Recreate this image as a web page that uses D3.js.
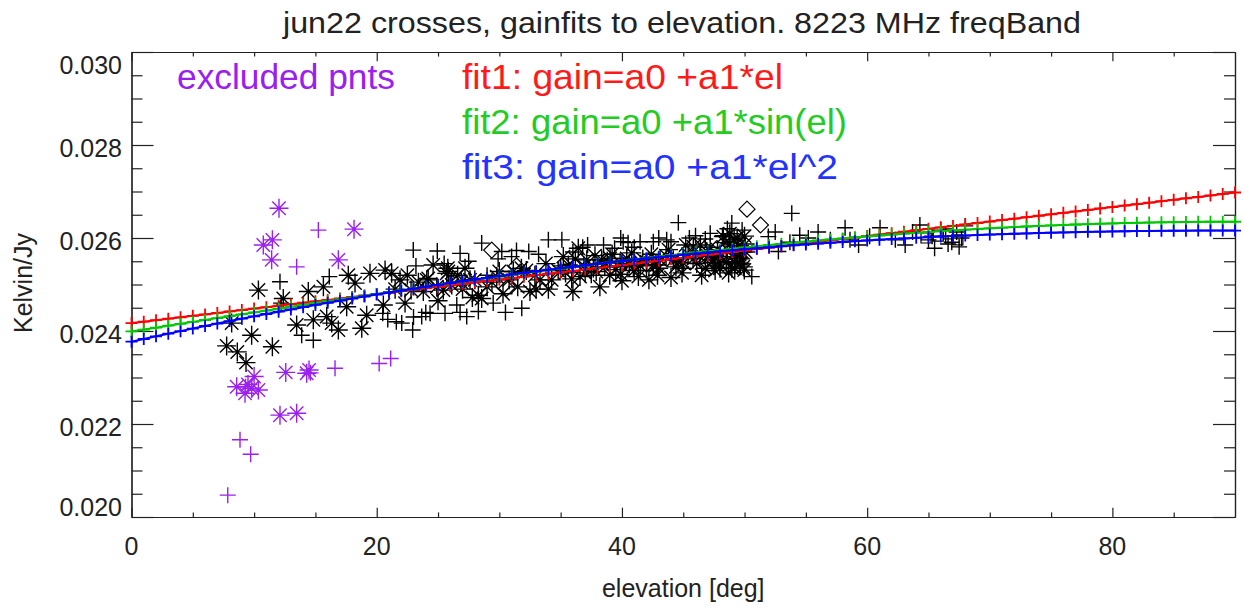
<!DOCTYPE html>
<html><head><meta charset="utf-8">
<script src="https://cdn.jsdelivr.net/npm/d3@7"></script>
<style>
html,body{margin:0;padding:0;background:#fff;}
svg{display:block;font-family:"Liberation Sans",Arial,Helvetica,sans-serif;}
</style></head><body>
<svg id="chart" width="1244" height="610"></svg>
<script>
// ---------------- data ----------------
const titleText = "jun22 crosses, gainfits to elevation. 8223 MHz freqBand";
const xLabel = "elevation [deg]";
const yLabel = "Kelvin/Jy";
const xTickValues = [0, 20, 40, 60, 80];
const xTickLabels = ["0", "20", "40", "60", "80"];
const xMinorValues = [5, 10, 15, 25, 30, 35, 45, 50, 55, 65, 70, 75, 85];
const yTickValues = [0.020, 0.022, 0.024, 0.026, 0.028, 0.030];
const yTickLabels = ["0.020", "0.022", "0.024", "0.026", "0.028", "0.030"];
const yMinorValues = [0.0205, 0.021, 0.0215, 0.0225, 0.023, 0.0235, 0.0245, 0.025, 0.0255, 0.0265, 0.027, 0.0275, 0.0285, 0.029, 0.0295];
const legendLabels = ["excluded pnts", "fit1: gain=a0 +a1*el", "fit2: gain=a0 +a1*sin(el)", "fit3: gain=a0 +a1*el^2"];

// fit curves evaluated at every degree of elevation
const fitEl = [0,1,2,3,4,5,6,7,8,9,10,11,12,13,14,15,16,17,18,19,20,21,22,23,24,25,26,27,28,29,30,31,32,33,34,35,36,37,38,39,40,41,42,43,44,45,46,47,48,49,50,51,52,53,54,55,56,57,58,59,60,61,62,63,64,65,66,67,68,69,70,71,72,73,74,75,76,77,78,79,80,81,82,83,84,85,86,87,88,89,90];
const fit1 = [0.024170,0.024201,0.024232,0.024264,0.024295,0.024326,0.024357,0.024388,0.024420,0.024451,0.024482,0.024513,0.024544,0.024576,0.024607,0.024638,0.024669,0.024700,0.024732,0.024763,0.024794,0.024825,0.024856,0.024888,0.024919,0.024950,0.024981,0.025012,0.025044,0.025075,0.025106,0.025137,0.025168,0.025200,0.025231,0.025262,0.025293,0.025324,0.025356,0.025387,0.025418,0.025449,0.025480,0.025512,0.025543,0.025574,0.025605,0.025636,0.025668,0.025699,0.025730,0.025761,0.025792,0.025824,0.025855,0.025886,0.025917,0.025948,0.025980,0.026011,0.026042,0.026073,0.026104,0.026136,0.026167,0.026198,0.026229,0.026260,0.026292,0.026323,0.026354,0.026385,0.026416,0.026448,0.026479,0.026510,0.026541,0.026572,0.026604,0.026635,0.026666,0.026697,0.026728,0.026760,0.026791,0.026822,0.026853,0.026884,0.026916,0.026947,0.026978];
const fit2 = [0.023990,0.024031,0.024072,0.024114,0.024155,0.024196,0.024237,0.024278,0.024318,0.024359,0.024400,0.024440,0.024481,0.024521,0.024561,0.024601,0.024641,0.024680,0.024719,0.024758,0.024797,0.024836,0.024874,0.024912,0.024950,0.024987,0.025025,0.025061,0.025098,0.025134,0.025170,0.025205,0.025241,0.025275,0.025310,0.025344,0.025377,0.025410,0.025443,0.025475,0.025507,0.025538,0.025569,0.025600,0.025629,0.025659,0.025688,0.025716,0.025744,0.025771,0.025798,0.025824,0.025850,0.025875,0.025899,0.025923,0.025947,0.025969,0.025991,0.026013,0.026034,0.026054,0.026074,0.026093,0.026111,0.026129,0.026146,0.026162,0.026178,0.026193,0.026208,0.026221,0.026235,0.026247,0.026259,0.026270,0.026280,0.026290,0.026298,0.026307,0.026314,0.026321,0.026327,0.026332,0.026337,0.026341,0.026344,0.026347,0.026349,0.026350,0.026350];
const fit3 = [0.023770,0.023828,0.023885,0.023942,0.023997,0.024052,0.024107,0.024160,0.024213,0.024264,0.024316,0.024366,0.024415,0.024464,0.024512,0.024560,0.024606,0.024652,0.024697,0.024742,0.024785,0.024828,0.024870,0.024911,0.024952,0.024992,0.025031,0.025070,0.025107,0.025144,0.025180,0.025216,0.025251,0.025285,0.025318,0.025351,0.025383,0.025414,0.025445,0.025475,0.025504,0.025533,0.025560,0.025588,0.025614,0.025640,0.025665,0.025689,0.025713,0.025736,0.025759,0.025780,0.025801,0.025822,0.025842,0.025861,0.025879,0.025897,0.025914,0.025931,0.025947,0.025962,0.025977,0.025991,0.026004,0.026017,0.026030,0.026041,0.026052,0.026063,0.026073,0.026082,0.026091,0.026099,0.026107,0.026114,0.026120,0.026126,0.026132,0.026137,0.026141,0.026145,0.026148,0.026151,0.026154,0.026156,0.026157,0.026159,0.026159,0.026160,0.026160];

// measured points [elevation, gain]
const blackStar = [
 [7.76,0.02368],[8.63,0.02355],[9.34,0.02332],[9.8,0.02391],[10.35,0.02488],[11.49,0.02366],[8.17,0.02417],
 [12.38,0.0247],[13.47,0.02413],[14.42,0.02485],[14.83,0.02424],[15.65,0.02495],[15.92,0.02431],[16.33,0.02417],
 [16.87,0.02402],[17.55,0.02452],[17.68,0.0252],[18.23,0.02503],[18.78,0.02406],[19.18,0.02434],[19.45,0.02524],
 [20.54,0.02456],[20.68,0.02531],[21.22,0.02524],[21.9,0.0251],[22.31,0.0246],[24.2,0.02513],[25.43,0.02488],
 [25.71,0.02524],[24.6,0.02542],[25.8,0.02535],
 [24.08,0.02510],[25.84,0.02528],[26.12,0.02499],[27.61,0.02510],[28.29,0.02477],[28.56,0.02470],[29.79,0.02517],
 [31.14,0.02528],[32.5,0.02485],[33.32,0.02510],[34.27,0.02510],[35.22,0.02560],[35.63,0.02542],[36.44,0.02578],
 [36.58,0.02517],[37.13,0.02553],[37.67,0.02535],[38.35,0.02553],[39.03,0.02556],[39.85,0.02546],[40.39,0.02556],
 [40.93,0.02538],[41.34,0.02517],[42.02,0.02549],[42.56,0.02542],[43.11,0.02553],[44.19,0.02553],[45.01,0.02546],
 [45.82,0.02581],[46.37,0.02560],[46.92,0.02571],[47.46,0.02553],[48.0,0.02546],[48.27,0.02603],[48.82,0.02589],
 [49.36,0.02567],[49.63,0.02546],[49.9,0.02538],[48.96,0.02535],[48.55,0.02549],
 [22.8,0.02488],[23.4,0.02505],[24.9,0.02495],[26.6,0.0252],[27.2,0.02535],[28.0,0.0251],[29.0,0.02495],
 [30.0,0.02528],[30.8,0.0251],[31.8,0.02535],[32.9,0.0252],[33.8,0.02545],[34.8,0.0253],[35.9,0.02512],
 [36.9,0.0254],[37.9,0.02528],[38.8,0.0255],[39.5,0.02532],[40.6,0.02545],[41.7,0.02555],[42.8,0.02542],
 [43.6,0.02562],[44.6,0.02548],[45.4,0.02565],[46.1,0.02545],[47.0,0.02562],[47.8,0.02575],[25.0,0.02465],
 [27.8,0.02472],[33.0,0.0249],[36.0,0.02485],[38.2,0.02495],[40.0,0.02508],[42.2,0.0251],[44.0,0.02515],[46.5,0.0252],
 [48.8,0.02609],[49.15,0.02596],[49.5,0.02583],[49.8,0.0257],[49.3,0.02557],[49.65,0.02544],[49.98,0.02531],
 [48.6,0.02574],[50.05,0.02587],[48.5,0.02548],[50.0,0.02604],[48.0,0.02535],[47.35,0.02548],[46.8,0.02535],
 [36.2,0.02555],[37.0,0.02525],[37.8,0.02562],[38.6,0.02538],[39.2,0.02565],[39.9,0.02522],[40.8,0.02568],
 [41.5,0.0254],[42.4,0.02565],[43.0,0.02535],[43.8,0.02575],[44.4,0.02538],[45.2,0.02585],[45.8,0.02555],
 [46.4,0.02585],[47.2,0.0258],[47.9,0.0256],[48.4,0.0259],[49.0,0.0256],[49.4,0.0260],[49.7,0.02555],
 [50.1,0.0257],[48.7,0.02525],[49.2,0.02535],[47.6,0.0253],[44.9,0.02525],[42.9,0.0252],[41.0,0.0253],[39.0,0.0252],
 [22.5,0.0252],[23.8,0.02485],[26.9,0.02505],[29.4,0.02505],[31.5,0.02495],[32.2,0.0253],[34.0,0.0249],
 [35.4,0.02525],[30.3,0.0248],[27.0,0.0249],[21.5,0.0249]
];
const blackPlus = [
 [12.11,0.02506],[12.2,0.0246],[13.88,0.02391],[14.83,0.0238],[16.13,0.02517],[20.49,0.02438],[22.04,0.02417],
 [22.93,0.02402],[22.98,0.02574],[24.94,0.02572],[23.67,0.02431],[24.35,0.02438],[25.57,0.02438],[26.8,0.02567],
 [28.56,0.02589],[30.2,0.02571],[31.4,0.02573],[32.4,0.02571],[34.0,0.02596],[35.1,0.02596],[44.6,0.02633],
 [53.85,0.02653],[48.96,0.02632],[50.59,0.02517],[31.83,0.02449],[28.29,0.02442],[27.34,0.02431],[26.53,0.02456],
 [41.48,0.02592],[42.56,0.02592],[43.65,0.02596],[40.1,0.02592],[47.2,0.0261],[49.8,0.02617],[51.94,0.02603],
 [52.76,0.02571],[54.5,0.02606],
 [23.2,0.0254],[25.5,0.02545],[27.5,0.0255],[29.9,0.02555],[33.2,0.02565],[36.8,0.0258],[38.5,0.02585],
 [39.4,0.02578],[41.0,0.0258],[44.0,0.02592],[45.5,0.026],[46.8,0.02598],[48.2,0.02605],[36.0,0.0257],
 [31.0,0.0256],[37.5,0.0252],[42.0,0.0253],[45.0,0.02535],[47.5,0.0254],[26.0,0.0250],[29.0,0.0252],[35.0,0.0254],
 [20.9,0.02425],[21.6,0.0242],[23.0,0.0243],[24.0,0.0244],[26.8,0.0244],[29.5,0.0246],[30.5,0.0244],
 [55.2,0.02600],[56.0,0.02613],[57.0,0.02596],[58.2,0.02622],[59.3,0.02585],[60.2,0.02604],[61.05,0.02622],
 [62.3,0.02596],[63.1,0.02585],[63.7,0.02613],[64.3,0.02628],[65.0,0.02596],[65.5,0.02578],[66.0,0.02617],
 [66.4,0.02604],[66.9,0.02591],[67.3,0.02613],[67.7,0.02600],[68.0,0.02626],[66.6,0.02587],[65.3,0.02604],
 [67.5,0.02581],[53.7,0.02591],[52.5,0.02613],[58.6,0.02596],
 [37.2,0.02585],[40.5,0.0259],[43.0,0.0260],[46.0,0.02605],[48.6,0.0262],[39.9,0.0260]
];
const blackDiamond = [[29.38,0.02574],[31.4,0.0254],[30.6,0.02492],[50.2,0.02662],[51.3,0.02628]];
const blackSquare = [[65.8,0.02604],[67.4,0.02596],[66.6,0.02609],[64.8,0.02600]];
const purpleStar = [
 [12.03,0.02664],[10.75,0.02585],[11.49,0.02596],[11.43,0.02553],[18.15,0.02619],[16.87,0.02553],
 [8.58,0.0228],[9.26,0.02266],[9.8,0.02277],[10.0,0.02302],[10.35,0.02273],[9.5,0.02285],
 [12.58,0.02311],[14.48,0.02316],[14.29,0.02309],[12.11,0.02219],[13.47,0.02223]
];
const purplePlus = [[15.24,0.02617],[13.47,0.02538],[16.6,0.0232],[20.2,0.0233],[21.14,0.02341],[8.85,0.02166],[9.72,0.02135],[7.85,0.02047],[9.3,0.0228],[14.6,0.0231]];

// ---------------- drawing ----------------
const svg = d3.select("#chart");
const plotLeft = 131.5, plotRight = 1235, plotTop = 52, plotBottom = 517;
const x = d3.scaleLinear().domain([0, 90]).range([plotLeft, plotRight]);
const y = d3.scaleLinear().domain([0.020, 0.030]).range([plotBottom, plotTop]);

const axisColor = "#222";
const textColor = "#222";
const purple = "#9b20f0";

function styleAxis(g) {
  g.select(".domain").attr("stroke", axisColor).attr("stroke-width", 1.2);
  g.selectAll(".tick line").attr("stroke", axisColor).attr("stroke-width", 1.2);
  g.selectAll(".tick text").remove();
}
const xMajLen = 9.3, xMinLen = 4.6, yMajLen = 22, yMinLen = 11;
function addAxis(gen, tx, ty) {
  svg.append("g").attr("transform", `translate(${tx},${ty})`).call(gen).call(styleAxis);
}
addAxis(d3.axisBottom(x).tickValues(xTickValues).tickSize(-xMajLen).tickSizeOuter(0), 0, plotBottom);
addAxis(d3.axisBottom(x).tickValues(xMinorValues).tickSize(-xMinLen).tickSizeOuter(0), 0, plotBottom);
addAxis(d3.axisTop(x).tickValues(xTickValues).tickSize(-xMajLen).tickSizeOuter(0), 0, plotTop);
addAxis(d3.axisTop(x).tickValues(xMinorValues).tickSize(-xMinLen).tickSizeOuter(0), 0, plotTop);
addAxis(d3.axisLeft(y).tickValues(yTickValues).tickSize(-yMajLen).tickSizeOuter(0), plotLeft, 0);
addAxis(d3.axisLeft(y).tickValues(yMinorValues).tickSize(-yMinLen).tickSizeOuter(0), plotLeft, 0);
addAxis(d3.axisRight(y).tickValues(yTickValues).tickSize(-yMajLen).tickSizeOuter(0), plotRight, 0);
addAxis(d3.axisRight(y).tickValues(yMinorValues).tickSize(-yMinLen).tickSizeOuter(0), plotRight, 0);

// tick labels
const fs = 25;
svg.append("g").selectAll("text").data(xTickValues).join("text")
  .attr("x", d => x(d)).attr("y", 555).attr("text-anchor", "middle")
  .attr("font-size", fs).attr("fill", textColor)
  .text((d, i) => xTickLabels[i]);
svg.append("g").selectAll("text").data(yTickValues).join("text")
  .attr("x", 122).attr("y", (d, i) => {
    const p = y(d);
    if (i === yTickValues.length - 1) return p + 22;
    if (i === 0) return p - 1;
    return p + 12;
  })
  .attr("text-anchor", "end").attr("font-size", fs).attr("fill", textColor)
  .text((d, i) => yTickLabels[i]);

// titles
svg.append("text").attr("x", 283).attr("y", 33).attr("font-size", 30).attr("fill", textColor)
  .attr("textLength", 798).attr("lengthAdjust", "spacingAndGlyphs").text(titleText);
svg.append("text").attr("x", (plotLeft + plotRight) / 2).attr("y", 597).attr("text-anchor", "middle")
  .attr("font-size", fs).attr("fill", textColor).text(xLabel);
svg.append("text").attr("transform", "translate(32,283) rotate(-90)").attr("text-anchor", "middle")
  .attr("font-size", fs).attr("fill", textColor).text(yLabel);

// symbol paths
const plusPath = s => `M${-s},0H${s}M0,${-s}V${s}`;
const starPath = s => { const d = s * 0.7071; return `M${-s},0H${s}M0,${-s}V${s}M${-d},${-d}L${d},${d}M${-d},${d}L${d},${-d}`; };
const diamondPath = s => `M0,${-s}L${s},0L0,${s}L${-s},0Z`;
const squarePath = s => `M${-s},${-s}H${s}V${s}H${-s}Z`;

function drawPoints(data, pathStr, color, sw) {
  svg.append("g").selectAll("path").data(data).join("path")
    .attr("transform", d => `translate(${x(d[0])},${y(d[1])})`)
    .attr("d", pathStr).attr("fill", "none").attr("stroke", color).attr("stroke-width", sw);
}
drawPoints(blackStar, starPath(9.5), "#000", 1.4);
drawPoints(blackPlus, plusPath(8), "#000", 1.4);
drawPoints(blackDiamond, diamondPath(8), "#000", 1.2);
drawPoints(blackSquare, squarePath(5), "#000", 1.2);
drawPoints(purpleStar, starPath(9.5), purple, 1.4);
drawPoints(purplePlus, plusPath(8), purple, 1.4);

// fit curves with plus markers at each degree
const fits = [[fit1, "#ff0000"], [fit2, "#00c800"], [fit3, "#0000ff"]];
const line = d3.line().x(d => x(d[0])).y(d => y(d[1]));
fits.forEach(([vals, col]) => {
  const pts = fitEl.map((e, i) => [e, vals[i]]);
  svg.append("path").datum(pts).attr("d", line).attr("fill", "none").attr("stroke", col).attr("stroke-width", 2);
  drawPoints(pts, plusPath(6), col, 1.8);
});

// legend
const legendColors = [purple, "#ff1a1a", "#22cc22", "#2233ff"];
const legendPos = [[177, 89, 218], [462, 89, 321], [462, 134, 385], [462, 178.5, 376]];
legendLabels.forEach((t, i) => {
  svg.append("text").attr("x", legendPos[i][0]).attr("y", legendPos[i][1])
    .attr("font-size", 35).attr("fill", legendColors[i])
    .attr("textLength", legendPos[i][2]).attr("lengthAdjust", "spacingAndGlyphs").text(t);
});
</script>
</body></html>
